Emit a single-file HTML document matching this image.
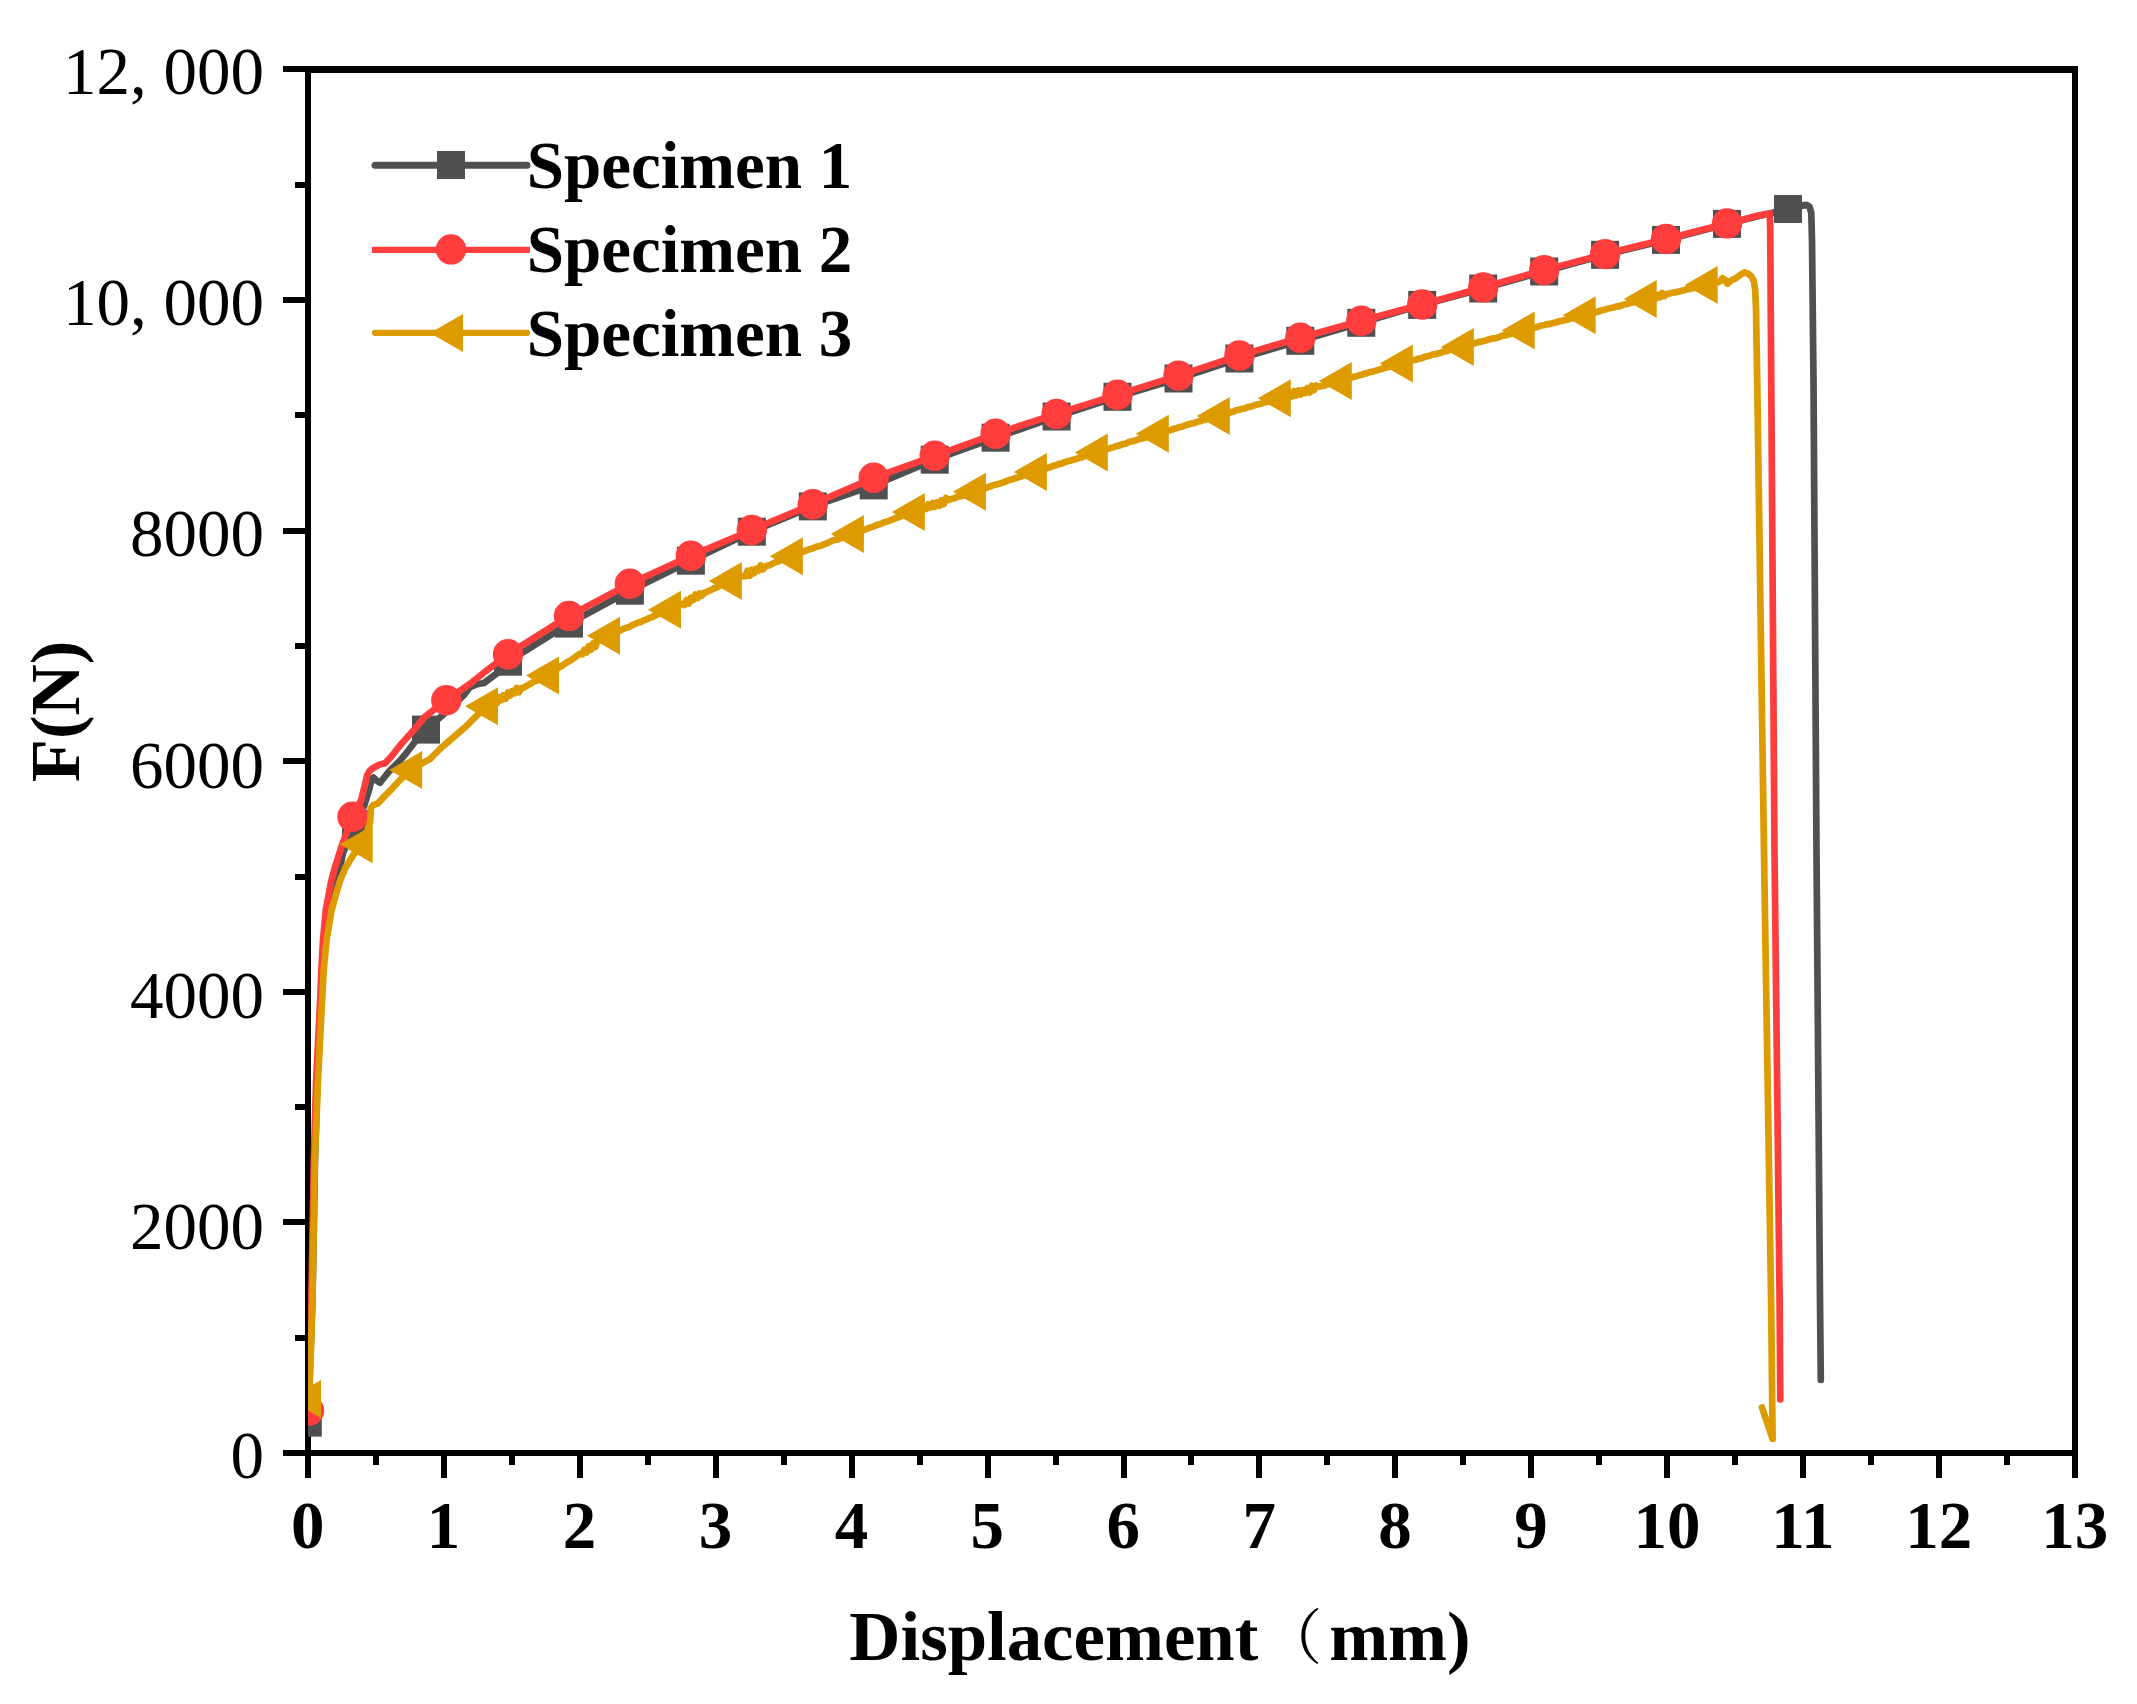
<!DOCTYPE html>
<html lang="en"><head><meta charset="utf-8"><title>Force-displacement curves</title>
<style>
html,body{margin:0;padding:0;background:#fff;}
body{width:2137px;height:1704px;overflow:hidden;}
svg{display:block;}
text{font-family:"Liberation Serif","Noto Serif CJK SC",serif;fill:#000;}
.yt{font-size:67px;text-anchor:end;}
.xt{font-size:67px;font-weight:bold;text-anchor:middle;}
.lg{font-size:67px;font-weight:bold;}
.ttl{font-size:70.8px;font-weight:bold;}
.cjk{font-family:"Noto Serif CJK SC","Liberation Serif",serif;font-weight:normal;}
</style></head><body>
<svg width="2137" height="1704" viewBox="0 0 2137 1704">
<rect width="2137" height="1704" fill="#fff"/>
<defs><clipPath id="plot"><rect x="308" y="69.5" width="1767" height="1383.5"/></clipPath></defs>
<g id="axes" fill="#000" shape-rendering="crispEdges">
<rect x="305" y="66" width="1773" height="7"/>
<rect x="305" y="1450" width="1773" height="6"/>
<rect x="305" y="66" width="6" height="1390"/>
<rect x="2072" y="66" width="6" height="1390"/>
<rect x="283" y="1450" width="24" height="6"/>
<rect x="295" y="1335" width="12" height="6"/>
<rect x="283" y="1219" width="24" height="6"/>
<rect x="295" y="1104" width="12" height="6"/>
<rect x="283" y="989" width="24" height="6"/>
<rect x="295" y="874" width="12" height="6"/>
<rect x="283" y="758" width="24" height="6"/>
<rect x="295" y="643" width="12" height="6"/>
<rect x="283" y="528" width="24" height="6"/>
<rect x="295" y="412" width="12" height="6"/>
<rect x="283" y="297" width="24" height="6"/>
<rect x="295" y="182" width="12" height="6"/>
<rect x="283" y="66" width="24" height="6"/>
<rect x="305" y="1453" width="6" height="25"/>
<rect x="373" y="1453" width="6" height="12"/>
<rect x="441" y="1453" width="6" height="25"/>
<rect x="509" y="1453" width="6" height="12"/>
<rect x="577" y="1453" width="6" height="25"/>
<rect x="645" y="1453" width="6" height="12"/>
<rect x="713" y="1453" width="6" height="25"/>
<rect x="781" y="1453" width="6" height="12"/>
<rect x="849" y="1453" width="6" height="25"/>
<rect x="917" y="1453" width="6" height="12"/>
<rect x="985" y="1453" width="6" height="25"/>
<rect x="1053" y="1453" width="6" height="12"/>
<rect x="1121" y="1453" width="6" height="25"/>
<rect x="1188" y="1453" width="6" height="12"/>
<rect x="1256" y="1453" width="6" height="25"/>
<rect x="1324" y="1453" width="6" height="12"/>
<rect x="1392" y="1453" width="6" height="25"/>
<rect x="1460" y="1453" width="6" height="12"/>
<rect x="1528" y="1453" width="6" height="25"/>
<rect x="1596" y="1453" width="6" height="12"/>
<rect x="1664" y="1453" width="6" height="25"/>
<rect x="1732" y="1453" width="6" height="12"/>
<rect x="1800" y="1453" width="6" height="25"/>
<rect x="1868" y="1453" width="6" height="12"/>
<rect x="1936" y="1453" width="6" height="25"/>
<rect x="2004" y="1453" width="6" height="12"/>
<rect x="2072" y="1453" width="6" height="25"/>
</g>
<g id="ylabels">
<text class="yt" x="264" y="1478.3">0</text>
<text class="yt" x="264" y="1248.5">2000</text>
<text class="yt" x="264" y="1018">4000</text>
<text class="yt" x="264" y="787.5">6000</text>
<text class="yt" x="264" y="555.8">8000</text>
<text class="yt" x="264" y="324.9">10, 000</text>
<text class="yt" x="264" y="94.3">12, 000</text>
</g>
<g id="xlabels">
<text class="xt" x="307.7" y="1548">0</text>
<text class="xt" x="443.6" y="1548">1</text>
<text class="xt" x="579.5" y="1548">2</text>
<text class="xt" x="715.5" y="1548">3</text>
<text class="xt" x="851.4" y="1548">4</text>
<text class="xt" x="987.3" y="1548">5</text>
<text class="xt" x="1123.2" y="1548">6</text>
<text class="xt" x="1259.2" y="1548">7</text>
<text class="xt" x="1395.1" y="1548">8</text>
<text class="xt" x="1531" y="1548">9</text>
<text class="xt" x="1666.9" y="1548">10</text>
<text class="xt" x="1802.9" y="1548">11</text>
<text class="xt" x="1938.8" y="1548">12</text>
<text class="xt" x="2074.7" y="1548">13</text>
</g>
<text class="ttl" x="1160" y="1660" text-anchor="middle">Displacement<tspan class="cjk" font-size="60" dx="4" dy="-1.5">（</tspan><tspan dx="6.8" dy="1.5">mm)</tspan></text>
<text class="ttl" transform="translate(79 711.5) rotate(-90)" text-anchor="middle">F(N)</text>
<g id="data" clip-path="url(#plot)">
<g id="specimen1">
<polyline points="308,1423 309.5,1380 311,1340 312.5,1300 313.8,1230 315,1160 317.4,1080 321.4,1000 322.8,970 325,940 328.5,910 334.5,882 340,868 343.1,852.7 356,824 364.1,806.1 369.4,788.8 371.6,779.1 373.5,777.6 376.5,780.5 379.9,782.8 383,779 388.9,771.6 400.2,760.3 407.7,751.3 415.2,741.5 426,729.6 440,717.5 455,704 464,695 470,687 477,684.3 484,683 497,673.3 508,661.7 569,623.6 629.9,590.7 690.9,560.7 751.8,531.7 812.8,506.4 873.7,485.4 934.7,459.7 995.6,437.7 1056.6,416.5 1117.5,396.8 1178.5,378.5 1239.4,358.5 1300.3,340.8 1361.3,322.8 1422.2,304.9 1483.2,288.5 1544.2,271.5 1605.1,254.8 1666,239.9 1727,223.9 1760,215.8 1788,209 1797,207.6 1802.5,205.6 1806.5,204.8 1809.6,206.8 1811.3,213 1812,240 1813.5,380 1816.5,852 1820,1300 1820.8,1380" fill="none" stroke="#505050" stroke-width="6.7" stroke-linejoin="round" stroke-linecap="round"/>
<rect x="293.8" y="1408.6" width="28" height="28" fill="#505050"/>
<rect x="342" y="810" width="28" height="28" fill="#505050"/>
<rect x="412" y="715.6" width="28" height="28" fill="#505050"/>
<rect x="494" y="647.7" width="28" height="28" fill="#505050"/>
<rect x="555" y="609.6" width="28" height="28" fill="#505050"/>
<rect x="615.9" y="576.7" width="28" height="28" fill="#505050"/>
<rect x="676.9" y="546.7" width="28" height="28" fill="#505050"/>
<rect x="737.8" y="517.7" width="28" height="28" fill="#505050"/>
<rect x="798.8" y="492.4" width="28" height="28" fill="#505050"/>
<rect x="859.7" y="471.4" width="28" height="28" fill="#505050"/>
<rect x="920.7" y="445.7" width="28" height="28" fill="#505050"/>
<rect x="981.6" y="423.7" width="28" height="28" fill="#505050"/>
<rect x="1042.6" y="402.5" width="28" height="28" fill="#505050"/>
<rect x="1103.5" y="382.8" width="28" height="28" fill="#505050"/>
<rect x="1164.5" y="364.5" width="28" height="28" fill="#505050"/>
<rect x="1225.4" y="344.5" width="28" height="28" fill="#505050"/>
<rect x="1286.3" y="326.8" width="28" height="28" fill="#505050"/>
<rect x="1347.3" y="308.8" width="28" height="28" fill="#505050"/>
<rect x="1408.2" y="290.9" width="28" height="28" fill="#505050"/>
<rect x="1469.2" y="274.5" width="28" height="28" fill="#505050"/>
<rect x="1530.2" y="257.5" width="28" height="28" fill="#505050"/>
<rect x="1591.1" y="240.8" width="28" height="28" fill="#505050"/>
<rect x="1652" y="225.9" width="28" height="28" fill="#505050"/>
<rect x="1713" y="209.9" width="28" height="28" fill="#505050"/>
<rect x="1774" y="195" width="28" height="28" fill="#505050"/>
</g>
<g id="specimen2">
<polyline points="308.5,1411 309,1380 309.8,1340 311.3,1300 312.6,1230 313.8,1160 316.2,1080 320.2,1000 321.4,970 323,940 325.8,910 331,882 334.8,868 341,848 352.5,816.7 361.1,800.1 365.6,782.1 367.1,775.3 369.2,771.5 372.4,768.5 379.1,764.8 385.1,763.3 392.6,755 400.2,745.3 410.2,734.1 425.2,716.5 446.3,700.3 470.3,683.6 485.3,671.5 508,654.3 569,615.9 629.9,583.8 690.9,555.8 751.8,530 812.8,504.2 873.7,477.8 934.7,455.8 995.6,433.8 1056.6,413.9 1117.5,394.8 1178.5,375.6 1239.4,355.5 1300.3,337.7 1361.3,320.8 1422.2,304.5 1483.2,287.4 1544.2,270.1 1605.1,254.1 1666,238.9 1727,223.4 1745,219 1758,215.6 1766,214 1769.8,213.4 1770.2,230 1774.5,852 1779.6,1300 1780.3,1399.5" fill="none" stroke="#ff3d3d" stroke-width="6.7" stroke-linejoin="round" stroke-linecap="round"/>
<circle cx="309" cy="1410.5" r="15.2" fill="#ff3d3d"/>
<circle cx="352.5" cy="816.7" r="15.2" fill="#ff3d3d"/>
<circle cx="446.3" cy="700.3" r="15.2" fill="#ff3d3d"/>
<circle cx="508" cy="654.3" r="15.2" fill="#ff3d3d"/>
<circle cx="569" cy="615.9" r="15.2" fill="#ff3d3d"/>
<circle cx="629.9" cy="583.8" r="15.2" fill="#ff3d3d"/>
<circle cx="690.9" cy="555.8" r="15.2" fill="#ff3d3d"/>
<circle cx="751.8" cy="530" r="15.2" fill="#ff3d3d"/>
<circle cx="812.8" cy="504.2" r="15.2" fill="#ff3d3d"/>
<circle cx="873.7" cy="477.8" r="15.2" fill="#ff3d3d"/>
<circle cx="934.7" cy="455.8" r="15.2" fill="#ff3d3d"/>
<circle cx="995.6" cy="433.8" r="15.2" fill="#ff3d3d"/>
<circle cx="1056.6" cy="413.9" r="15.2" fill="#ff3d3d"/>
<circle cx="1117.5" cy="394.8" r="15.2" fill="#ff3d3d"/>
<circle cx="1178.5" cy="375.6" r="15.2" fill="#ff3d3d"/>
<circle cx="1239.4" cy="355.5" r="15.2" fill="#ff3d3d"/>
<circle cx="1300.3" cy="337.7" r="15.2" fill="#ff3d3d"/>
<circle cx="1361.3" cy="320.8" r="15.2" fill="#ff3d3d"/>
<circle cx="1422.2" cy="304.5" r="15.2" fill="#ff3d3d"/>
<circle cx="1483.2" cy="287.4" r="15.2" fill="#ff3d3d"/>
<circle cx="1544.2" cy="270.1" r="15.2" fill="#ff3d3d"/>
<circle cx="1605.1" cy="254.1" r="15.2" fill="#ff3d3d"/>
<circle cx="1666" cy="238.9" r="15.2" fill="#ff3d3d"/>
<circle cx="1727" cy="223.4" r="15.2" fill="#ff3d3d"/>
</g>
<g id="specimen3">
<polyline points="309,1399 309.6,1385 310.6,1360 312.4,1300 313.6,1230 314.8,1160 318,1080 322.1,1000 323.7,970 326.6,940 331.6,910 339.5,882 345.3,868 352,857 360.7,844.2 366,834 370.2,822 370.8,808 373,805.2 377.6,803.6 385.1,795.6 392.6,788.1 400.2,779.8 410.2,770.1 430.2,758.8 441.5,747.5 455.3,735.6 465.8,726.6 486,706.3 488.2,705.2 490.4,704.1 492.6,703.3 494.8,701.8 497,702.9 499.2,697.2 501.4,700.1 503.6,695.2 505.8,698.7 508,692.4 510.2,695.4 512.4,691.1 514.6,693.2 516.8,687.9 519,692.2 521.2,688.1 523.4,687.7 525.6,686.6 527.8,685.2 530,684.1 532.2,682.7 534.4,681.4 536.6,680.7 538.8,679.2 541,678.2 543.2,677.1 545.4,675.9 547,675.4 549.2,673.9 551.4,672.5 553.6,671.3 555.8,669.7 558,668.3 560.2,666.8 562.4,665.5 564.6,663.9 566.8,662.4 569,661.4 571.2,660 573.4,658.5 575.6,656.9 577.8,655.2 580,653.7 582.2,654.3 584.4,649.7 586.6,652.4 588.8,646.2 591,649.7 593.2,643.4 595.4,647 597.6,639.6 599.8,640.7 602,639.4 604.2,638.5 606.4,636.7 608,635.7 610.2,635.1 612.4,633.8 614.6,632.6 616.8,632.1 619,631.2 621.2,629.9 623.4,628.9 625.6,628.1 627.8,627.6 630,626.5 632.2,625.2 634.4,624.3 636.6,623.3 638.8,622.3 641,621.9 643.2,620.5 645.4,619.9 647.6,618.8 649.8,617.7 652,617.2 654.2,615.8 656.4,615.2 658.6,613.9 660.8,613.2 663,612.1 665.2,611.2 667.4,610.8 669,609.8 671.2,609 673.4,607.6 675.6,606.9 677.8,605.4 680,604.5 682.2,603.8 684.4,605 686.6,600.1 688.8,603.6 691,597.7 693.2,600 695.4,594.5 697.6,598.1 699.8,593.4 702,595.5 704.2,592.8 706.4,592.1 708.6,590.9 710.8,590.1 713,588.9 715.2,587.9 717.4,587.2 719.6,585.8 721.8,584.8 724,584 726.2,582.5 728.4,581.4 729.9,580.9 732.1,580.3 734.3,579.3 736.5,578.1 738.7,577.1 740.9,576.6 743.1,575.9 745.3,576.3 747.5,570.7 749.7,575.9 751.9,569.6 754.1,573.2 756.3,568.8 758.5,570.6 760.7,565.4 762.9,569.3 765.1,566.8 767.3,565.6 769.5,565.2 771.7,564.1 773.9,563 776.1,562 778.3,561.5 780.5,560.2 782.7,559.4 784.9,558.8 787.1,558.1 789.3,557 790.9,556.3 793.1,555.3 795.3,555 797.5,553.7 799.7,552.7 801.9,552.1 804.1,551.4 806.3,550.4 808.5,549.6 810.7,549 812.9,548.3 815.1,547.2 817.3,546.5 819.5,546.1 821.7,545.4 823.9,544.3 826.1,543.6 828.3,542.7 830.5,541.6 832.7,540.7 834.9,539.9 837.1,539.7 839.3,538.7 841.5,538.1 843.7,536.7 845.9,536.3 848.1,535.4 850.3,534.7 851.9,534 854.1,533.1 856.3,532.8 858.5,531.3 860.7,530.9 862.9,530.2 865.1,529.5 867.3,528.6 869.5,527.8 871.7,527.1 873.9,526.4 876.1,525.2 878.3,524.6 880.5,524 882.7,523.1 884.9,522 887.1,521.5 889.3,520.8 891.5,519.8 893.7,519 895.9,518 898.1,517.4 900.3,516.6 902.5,515.5 904.7,515.1 906.9,514.5 909.1,513.6 911.3,512.7 912.9,512 915.1,511.2 917.3,510.7 919.5,509.9 921.7,509 923.9,508.6 926.1,509 928.3,504.2 930.5,507.4 932.7,503 934.9,506.8 937.1,502.3 939.3,505.8 941.5,500.3 943.7,504.2 945.9,498 948.1,500.1 950.3,499.2 952.5,498.7 954.7,498.2 956.9,497.1 959.1,496.4 961.3,496.2 963.5,495.3 965.7,494.4 967.9,494 970.1,492.8 972.3,492.3 973.9,491.7 976.1,490.8 978.3,490.2 980.5,489.8 982.7,489.1 984.9,488.4 987.1,487.4 989.3,486.8 991.5,485.9 993.7,485 995.9,484.6 998.1,484.1 1000.3,483.4 1002.5,482.6 1004.7,482.1 1006.9,480.9 1009.1,480.1 1011.3,479.6 1013.5,478.8 1015.7,478 1017.9,477.4 1020.1,476.9 1022.3,476.1 1024.5,475.2 1026.7,474.9 1028.9,474.3 1031.1,473.2 1033.3,472.2 1034.9,472 1037.1,471 1039.3,470.9 1041.5,469.6 1043.7,469.3 1045.9,468.5 1048.1,467.6 1050.3,467.3 1052.5,466 1054.7,465.4 1056.9,464.9 1059.1,463.9 1061.3,463.8 1063.5,462.7 1065.7,461.9 1067.9,461.1 1070.1,460.8 1072.3,460 1074.5,459.4 1076.7,458.7 1078.9,458.1 1081.1,457.5 1083.3,456.7 1085.5,455.6 1087.7,455.1 1089.9,454.2 1092.1,453.4 1094.3,453 1095.8,452.5 1098,452 1100.2,450.9 1102.5,450.3 1104.7,449.7 1106.9,449.2 1109.1,448.4 1111.3,447.8 1113.5,447.3 1115.7,446.3 1117.9,445.9 1120.1,445.3 1122.3,444.1 1124.5,444 1126.7,443.2 1128.9,442.1 1131.1,441.6 1133.3,441.1 1135.5,440.6 1137.7,439.5 1139.9,439 1142.1,438.5 1144.3,437.8 1146.5,437.2 1148.7,436.2 1150.9,435.7 1153.1,434.7 1155.3,434.3 1156.8,433.7 1159,433.3 1161.2,432.5 1163.4,431.9 1165.6,430.9 1167.8,430.8 1170,430.2 1172.2,429.6 1174.4,428.6 1176.6,428.2 1178.8,427.2 1181,427 1183.2,426.3 1185.4,425.3 1187.6,424.5 1189.8,424.1 1192,423.5 1194.2,423 1196.4,422.2 1198.6,421.2 1200.8,421.1 1203,420 1205.2,419.9 1207.4,418.8 1209.6,418.3 1211.8,417.9 1214,416.8 1216.2,416.2 1217.8,416 1220,415.4 1222.2,414.9 1224.4,414.3 1226.6,413.6 1228.8,413.1 1231,412.1 1233.2,411.8 1235.4,410.6 1237.6,410 1239.8,409.6 1242,408.8 1244.2,408.5 1246.4,407.7 1248.6,407 1250.8,406.6 1253,405.8 1255.2,405 1257.4,404.4 1259.6,404 1261.8,403.4 1264,402.3 1266.2,402.1 1268.4,401.6 1270.6,400.6 1272.8,400 1275,399.1 1277.2,398.7 1278.8,398.2 1281,397.6 1283.2,397 1285.4,396 1287.6,396 1289.8,395.1 1292,396.5 1294.2,391 1296.4,395.5 1298.6,390.4 1300.8,394.5 1303,390 1305.2,393 1307.4,388.1 1309.6,392.6 1311.8,385.8 1314,390 1316.2,385.4 1318.4,386.7 1320.6,386.3 1322.8,385.9 1325,385.4 1327.2,384.5 1329.4,383.7 1331.6,383 1333.8,382.7 1336,382.3 1338.2,381.1 1339.8,380.9 1342,380.5 1344.2,379.3 1346.4,378.8 1348.6,378.2 1350.8,377.9 1353,377 1355.2,376.4 1357.4,376 1359.6,375 1361.8,374.8 1364,373.8 1366.2,373.4 1368.4,372.6 1370.6,372 1372.8,371.6 1375,370.9 1377.2,370.2 1379.4,369.6 1381.6,369.1 1383.8,368.2 1386,367.6 1388.2,367.3 1390.4,366.6 1392.6,365.9 1394.8,365.5 1397,364.8 1399.2,364.3 1400.8,363.6 1403,362.8 1405.2,362.6 1407.4,362 1409.6,361.5 1411.8,360.5 1414,359.9 1416.2,359.7 1418.4,358.6 1420.6,358.5 1422.8,357.8 1425,356.7 1427.2,356.2 1429.4,355.9 1431.6,355 1433.8,354.3 1436,354.2 1438.2,353.3 1440.4,353 1442.6,351.9 1444.8,351.5 1447,351.1 1449.2,350 1451.4,349.5 1453.6,349.3 1455.8,348.8 1458,348.3 1460.2,347.1 1461.8,346.9 1464,346.3 1466.2,345.9 1468.4,345.1 1470.6,344.7 1472.8,343.7 1475,343 1477.2,342.5 1479.4,341.8 1481.6,341.6 1483.8,341 1486,340.4 1488.2,339.6 1490.4,339 1492.6,338.4 1494.8,338.3 1497,337.8 1499.2,337.1 1501.4,336 1503.6,335.4 1505.8,335.4 1508,334.4 1510.2,334.1 1512.4,333.2 1514.6,332.7 1516.8,332.1 1519,331.5 1521.2,331 1522.7,330.5 1524.9,329.6 1527.1,329.5 1529.3,329.1 1531.5,328.1 1533.7,327.7 1535.9,327.4 1538.1,326.6 1540.3,325.9 1542.5,325.3 1544.7,325 1546.9,324.1 1549.1,324.2 1551.3,323.6 1553.5,323 1555.7,322.5 1557.9,321.8 1560.1,321.1 1562.3,320.7 1564.5,320.1 1566.7,319.9 1568.9,319.2 1571.1,318.3 1573.3,318.2 1575.5,317.5 1577.7,317 1579.9,316.5 1582.1,315.6 1583.7,315.3 1585.9,315 1588.1,314.4 1590.3,313.7 1592.5,313.1 1594.7,312.6 1596.9,311.7 1599.1,311.4 1601.3,310.3 1603.5,309.9 1605.7,309.4 1607.9,308.5 1610.1,308.2 1612.3,307.8 1614.5,307.2 1616.7,306.3 1618.9,306.3 1621.1,305.5 1623.3,304.7 1625.5,304.3 1627.7,303.7 1629.9,303.1 1632.1,302.4 1634.3,302.2 1636.5,301.4 1638.7,300.8 1640.9,300.3 1643.1,299.9 1644.7,299.1 1646.9,298.3 1649.1,298.2 1651.3,297.8 1653.5,296.9 1655.7,298.6 1657.9,294.8 1660.1,297.2 1662.3,293.1 1664.5,296 1666.7,293.9 1668.9,293.8 1671.1,293.1 1673.3,292.5 1675.5,292.4 1677.7,291.6 1679.9,291.4 1682.1,290.6 1684.3,290.2 1686.5,289.2 1688.7,289.1 1690.9,288.7 1693.1,287.7 1695.3,287.8 1697.5,286.7 1699.7,286.5 1701.9,285.7 1704.1,285.5 1705.7,285.1 1712,283.5 1720,281.5 1722.5,278.3 1725,279.8 1727.5,283.6 1731,280.5 1736,278.2 1741,274.3 1744.5,272.3 1748,273.6 1751.5,276.5 1753.8,281 1755.2,290 1756,309 1757.2,380 1764,852 1771.1,1300 1772.6,1439 1762,1407.5" fill="none" stroke="#de9b00" stroke-width="6.7" stroke-linejoin="round" stroke-linecap="round"/>
<polygon points="288,1399 321,1380 321,1418" fill="#de9b00"/>
<polygon points="339.7,844.2 372.7,825.2 372.7,863.2" fill="#de9b00"/>
<polygon points="389.2,770.1 422.2,751.1 422.2,789.1" fill="#de9b00"/>
<polygon points="465,706.3 498,687.3 498,725.3" fill="#de9b00"/>
<polygon points="526,675.4 559,656.4 559,694.4" fill="#de9b00"/>
<polygon points="587,635.7 620,616.7 620,654.7" fill="#de9b00"/>
<polygon points="648,609.8 681,590.8 681,628.8" fill="#de9b00"/>
<polygon points="708.9,580.9 741.9,561.9 741.9,599.9" fill="#de9b00"/>
<polygon points="769.9,556.3 802.9,537.3 802.9,575.3" fill="#de9b00"/>
<polygon points="830.9,534 863.9,515 863.9,553" fill="#de9b00"/>
<polygon points="891.9,512 924.9,493 924.9,531" fill="#de9b00"/>
<polygon points="952.9,491.7 985.9,472.7 985.9,510.7" fill="#de9b00"/>
<polygon points="1013.9,472 1046.9,453 1046.9,491" fill="#de9b00"/>
<polygon points="1074.8,452.5 1107.8,433.5 1107.8,471.5" fill="#de9b00"/>
<polygon points="1135.8,433.7 1168.8,414.7 1168.8,452.7" fill="#de9b00"/>
<polygon points="1196.8,416 1229.8,397 1229.8,435" fill="#de9b00"/>
<polygon points="1257.8,398.2 1290.8,379.2 1290.8,417.2" fill="#de9b00"/>
<polygon points="1318.8,380.9 1351.8,361.9 1351.8,399.9" fill="#de9b00"/>
<polygon points="1379.8,363.6 1412.8,344.6 1412.8,382.6" fill="#de9b00"/>
<polygon points="1440.8,346.9 1473.8,327.9 1473.8,365.9" fill="#de9b00"/>
<polygon points="1501.7,330.5 1534.7,311.5 1534.7,349.5" fill="#de9b00"/>
<polygon points="1562.7,315.3 1595.7,296.3 1595.7,334.3" fill="#de9b00"/>
<polygon points="1623.7,299.1 1656.7,280.1 1656.7,318.1" fill="#de9b00"/>
<polygon points="1684.7,285.1 1717.7,266.1 1717.7,304.1" fill="#de9b00"/>
</g>
</g>
<g id="legend">
<line x1="375" y1="165.3" x2="527" y2="165.3" stroke="#505050" stroke-width="7" stroke-linecap="round"/>
<rect x="437" y="151" width="28" height="28" fill="#505050"/>
<text class="lg" x="526.7" y="188">Specimen 1</text>
<line x1="372" y1="249.8" x2="530" y2="249.8" stroke="#ff3d3d" stroke-width="6.2" stroke-linecap="butt"/>
<circle cx="451" cy="249.4" r="15.2" fill="#ff3d3d"/>
<text class="lg" x="526.7" y="272.2">Specimen 2</text>
<line x1="375" y1="332.8" x2="527" y2="332.8" stroke="#de9b00" stroke-width="6.2" stroke-linecap="round"/>
<polygon points="430,333 463,314 463,352" fill="#de9b00"/>
<text class="lg" x="526.7" y="355.8">Specimen 3</text>
</g>
</svg>
</body></html>
